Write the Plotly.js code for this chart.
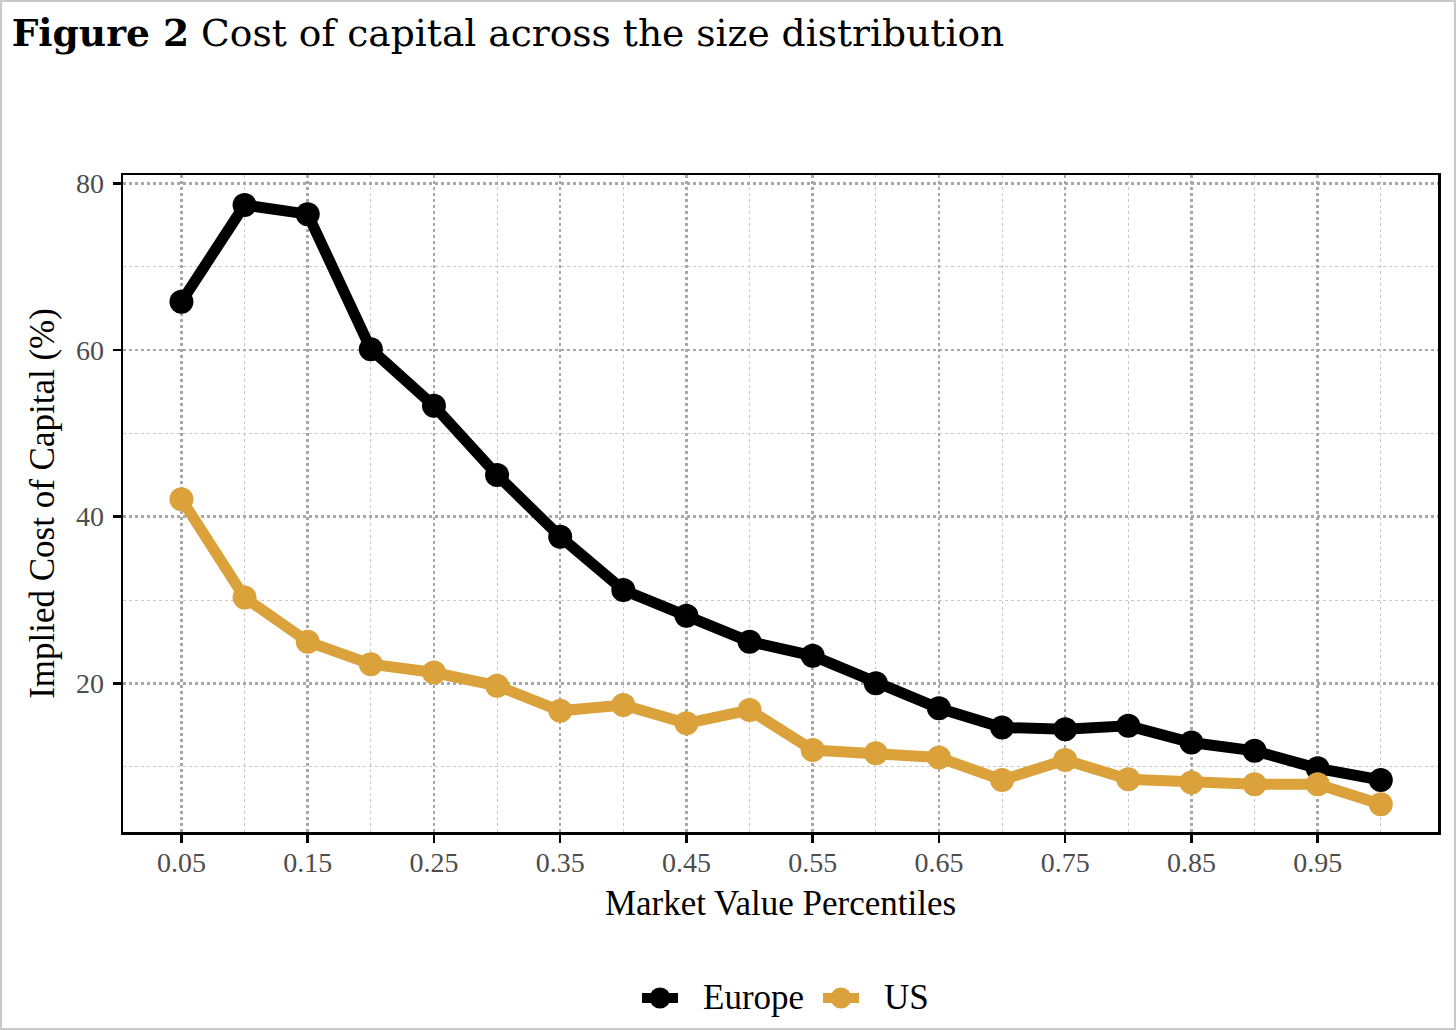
<!DOCTYPE html>
<html>
<head>
<meta charset="utf-8">
<script src="https://cdn.plot.ly/plotly-3.0.1.min.js"></script>
<style>
  html, body { margin: 0; padding: 0; background: #fff; }
  #wrap { position: relative; width: 1456px; height: 1030px; }
  #chart { position: absolute; left: 0; top: 0; width: 1456px; height: 1030px; }
  #frame { position: absolute; left: 0; top: 0; width: 1456px; height: 1030px; box-sizing: border-box; border: 2px solid #c9c9c9; pointer-events: none; }
</style>
</head>
<body>
<div id="wrap">
  <div id="chart"></div>
  <div id="frame"></div>
</div>
<script>
const percentiles = [0.05, 0.10, 0.15, 0.20, 0.25, 0.30, 0.35, 0.40, 0.45, 0.50,
                     0.55, 0.60, 0.65, 0.70, 0.75, 0.80, 0.85, 0.90, 0.95, 1.00];
const europe = [65.8, 77.4, 76.3, 60.1, 53.3, 45.0, 37.6, 31.2, 28.1, 25.0,
                23.3, 20.0, 17.0, 14.7, 14.5, 14.9, 12.9, 11.9, 9.8, 8.4];
const us = [42.1, 30.3, 25.0, 22.3, 21.3, 19.7, 16.7, 17.4, 15.2, 16.8,
            12.0, 11.6, 11.1, 8.4, 10.8, 8.5, 8.1, 7.9, 7.9, 5.5];
const xTickVals = [0.05, 0.15, 0.25, 0.35, 0.45, 0.55, 0.65, 0.75, 0.85, 0.95];
const xTickText = ['0.05', '0.15', '0.25', '0.35', '0.45', '0.55', '0.65', '0.75', '0.85', '0.95'];
const yTickVals = [20, 40, 60, 80];
const seriesNames = ['Europe', 'US'];
const seriesColors = ['#000000', '#DBA13A'];

const serif = 'Liberation Serif, Times New Roman, serif';

// figure geometry (pixels) used to place the hand-built legend key
const W = 1456, H = 1030;
const M = { l: 123, r: 18, t: 175, b: 198 };
const plotW = W - M.l - M.r, plotH = H - M.t - M.b;
const px = v => (v - M.l) / plotW;
const py = v => (H - M.b - v) / plotH;

const traces = [europe, us].map((vals, i) => ({
  x: percentiles,
  y: vals,
  name: seriesNames[i],
  type: 'scatter',
  mode: 'lines+markers',
  line: { color: seriesColors[i], width: 11 },
  marker: { color: seriesColors[i], size: 24 },
  hoverinfo: 'x+y+name',
  showlegend: false
}));

// legend key: [symbol left, symbol right, text left] in pixels
const legendItems = [[642, 678, 701], [823, 859, 882]];
const legendY = 998;
const shapes = [];
const annotations = [];
legendItems.forEach((it, i) => {
  shapes.push({ type: 'line', xref: 'paper', yref: 'paper',
    x0: px(it[0]), x1: px(it[1]), y0: py(legendY), y1: py(legendY),
    line: { color: seriesColors[i], width: 10 } });
  const cx = (it[0] + it[1]) / 2, r = 10.5;
  shapes.push({ type: 'circle', xref: 'paper', yref: 'paper',
    x0: px(cx - r), x1: px(cx + r), y0: py(legendY + r), y1: py(legendY - r),
    fillcolor: seriesColors[i], line: { width: 0 } });
  annotations.push({ xref: 'paper', yref: 'paper', x: px(it[2]), y: py(legendY),
    xanchor: 'left', yanchor: 'middle', showarrow: false, text: seriesNames[i],
    font: { family: serif, size: 35, color: '#000' } });
});

const layout = {
  width: W,
  height: H,
  paper_bgcolor: '#ffffff',
  plot_bgcolor: '#ffffff',
  margin: M,
  showlegend: false,
  title: {
    text: '<b>Figure 2</b> Cost of capital across the size distribution',
    font: { family: 'DejaVu Serif, serif', size: 37.6, color: '#000' },
    x: 0.008, xref: 'container', xanchor: 'left',
    y: 0.968, yref: 'container', yanchor: 'middle',
    automargin: false
  },
  xaxis: {
    range: [0.0037, 1.0453],
    automargin: false,
    tickvals: xTickVals,
    ticktext: xTickText,
    ticks: 'outside', ticklen: 8, tickwidth: 2.5, tickcolor: '#000',
    ticklabelstandoff: -4,
    showline: true, linecolor: '#000', linewidth: 2.5, mirror: true,
    showgrid: true, gridcolor: '#a8a8a8', gridwidth: 2.5, griddash: 'dot',
    minor: { tickvals: [0.10, 0.20, 0.30, 0.40, 0.50, 0.60, 0.70, 0.80, 0.90, 1.00],
             showgrid: true, gridcolor: '#c8c8c8', gridwidth: 1, griddash: 'dot', ticklen: 0 },
    zeroline: false,
    tickfont: { family: serif, size: 28, color: '#4d4d4d' },
    title: { text: 'Market Value Percentiles', font: { family: serif, size: 35, color: '#000' }, standoff: 14 }
  },
  yaxis: {
    range: [2.16, 81.0],
    automargin: false,
    tickvals: yTickVals,
    ticks: 'outside', ticklen: 8, tickwidth: 2.5, tickcolor: '#000',
    ticklabelstandoff: 3,
    showline: true, linecolor: '#000', linewidth: 2.5, mirror: true,
    showgrid: true, gridcolor: '#a8a8a8', gridwidth: 2.5, griddash: 'dot',
    minor: { tickvals: [10, 30, 50, 70],
             showgrid: true, gridcolor: '#c8c8c8', gridwidth: 1, griddash: 'dot', ticklen: 0 },
    zeroline: false,
    tickfont: { family: serif, size: 28, color: '#4d4d4d' },
    title: { text: 'Implied Cost of Capital (%)', font: { family: serif, size: 35, color: '#000' }, standoff: 11 }
  },
  shapes: shapes,
  annotations: annotations
};

Plotly.newPlot('chart', traces, layout, { displayModeBar: false, staticPlot: true });
</script>
</body>
</html>
